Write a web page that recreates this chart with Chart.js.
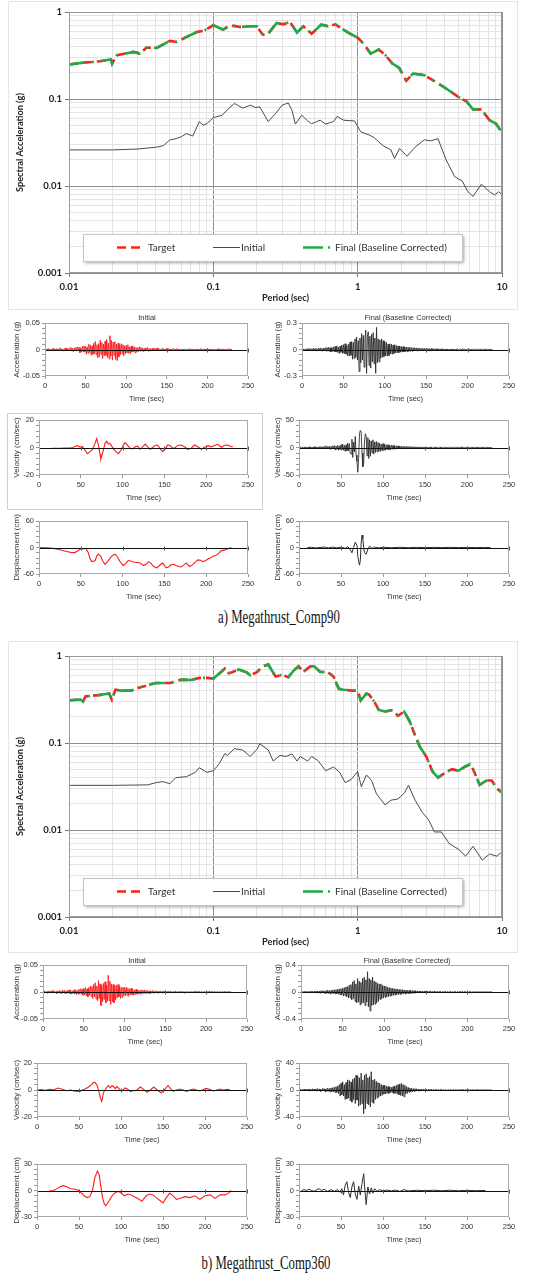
<!DOCTYPE html>
<html><head><meta charset="utf-8">
<script src="https://cdn.jsdelivr.net/npm/chart.js@4.4.1/dist/chart.umd.min.js"></script>
<style>
html,body{margin:0;padding:0;background:#fff}
body{position:relative;width:545px;height:1277px;overflow:hidden}
.box{position:absolute}
.frame{position:absolute;border:1px solid #e4e4e4;box-sizing:border-box}
.ttl{position:absolute;font-family:'Liberation Sans',Arial,sans-serif;font-size:7.5px;color:#333;transform:translateX(-50%);white-space:nowrap;line-height:9px}
.cap{position:absolute;font-family:'Liberation Serif','Times New Roman',serif;font-size:18px;color:#111;white-space:nowrap;transform:translate(-50%,-50%) scaleX(0.71)}
</style></head><body>
<div class="frame" style="left:8px;top:1px;width:510px;height:309px"></div>
<div class="frame" style="left:7px;top:413px;width:256px;height:97px;border-color:#cfcfcf"></div>
<div class="frame" style="left:8px;top:641px;width:510px;height:312px"></div>

<div class="box" id="specA" style="left:0;top:0;width:545px;height:305px"><canvas></canvas></div>
<div class="box" id="a1L" style="left:0;top:314px;width:262px;height:90px"><canvas></canvas></div>
<div class="box" id="a1R" style="left:262px;top:314px;width:283px;height:90px"><canvas></canvas></div>
<div class="box" id="a2L" style="left:0;top:411px;width:262px;height:92px"><canvas></canvas></div>
<div class="box" id="a2R" style="left:262px;top:411px;width:283px;height:92px"><canvas></canvas></div>
<div class="box" id="a3L" style="left:0;top:512px;width:262px;height:90px"><canvas></canvas></div>
<div class="box" id="a3R" style="left:262px;top:512px;width:283px;height:90px"><canvas></canvas></div>

<div class="box" id="specB" style="left:0;top:644px;width:545px;height:305px"><canvas></canvas></div>
<div class="box" id="b1L" style="left:0;top:956px;width:262px;height:91px"><canvas></canvas></div>
<div class="box" id="b1R" style="left:262px;top:956px;width:283px;height:91px"><canvas></canvas></div>
<div class="box" id="b2L" style="left:0;top:1054px;width:262px;height:91px"><canvas></canvas></div>
<div class="box" id="b2R" style="left:262px;top:1054px;width:283px;height:91px"><canvas></canvas></div>
<div class="box" id="b3L" style="left:0;top:1155px;width:262px;height:90px"><canvas></canvas></div>
<div class="box" id="b3R" style="left:262px;top:1155px;width:283px;height:90px"><canvas></canvas></div>

<div class="ttl" style="left:147px;top:313px">Initial</div>
<div class="ttl" style="left:408px;top:313px">Final (Baseline Corrected)</div>
<div class="ttl" style="left:137px;top:956px">Initial</div>
<div class="ttl" style="left:407px;top:956px">Final (Baseline Corrected)</div>
<div class="cap" style="left:279px;top:617px">a) Megathrust_Comp90</div>
<div class="cap" style="left:266px;top:1263px">b) Megathrust_Comp360</div>

<script>
// ---------------- DATA ----------------
const xMajors = [0.01, 0.1, 1, 10];
const xMajorLabels = ['0.01', '0.1', '1', '10'];
const yMajors = [0.001, 0.01, 0.1, 1];
const yMajorLabels = ['0.001', '0.01', '0.1', '1'];
const legendLabels = ['Target', 'Initial', 'Final (Baseline Corrected)'];

// Spectrum (a) [period, Sa]
const targetA = [[0.01,0.249],[0.0126,0.262],[0.0147,0.267],[0.0164,0.272],[0.0195,0.284],[0.0199,0.255],[0.0214,0.318],[0.0279,0.348],[0.031,0.333],[0.0345,0.39],[0.0405,0.387],[0.05,0.465],[0.0557,0.453],[0.0653,0.517],[0.0768,0.589],[0.0853,0.605],[0.1,0.703],[0.117,0.627],[0.131,0.703],[0.153,0.673],[0.18,0.685],[0.2,0.685],[0.22,0.549],[0.235,0.54],[0.275,0.748],[0.306,0.722],[0.34,0.768],[0.38,0.58],[0.42,0.685],[0.48,0.564],[0.56,0.716],[0.625,0.685],[0.7,0.722],[0.774,0.644],[0.883,0.564],[1.0,0.508],[1.1,0.43],[1.23,0.333],[1.4,0.37],[1.56,0.318],[1.74,0.255],[1.94,0.228],[2.17,0.162],[2.42,0.196],[2.9,0.188],[3.33,0.164],[4.1,0.132],[4.97,0.106],[5.7,0.093],[6.3,0.076],[7.2,0.076],[8.2,0.057],[9.1,0.052],[10,0.041]];
const finalA = [[0.01,0.249],[0.0126,0.262],[0.0147,0.267],[0.0164,0.272],[0.0195,0.284],[0.0199,0.255],[0.0214,0.318],[0.0279,0.348],[0.031,0.333],[0.0345,0.39],[0.0405,0.387],[0.05,0.465],[0.0557,0.453],[0.0653,0.517],[0.0768,0.589],[0.0853,0.605],[0.1,0.703],[0.117,0.627],[0.131,0.703],[0.153,0.673],[0.18,0.685],[0.2,0.685],[0.22,0.549],[0.235,0.54],[0.275,0.748],[0.306,0.722],[0.34,0.768],[0.38,0.58],[0.42,0.685],[0.48,0.564],[0.56,0.716],[0.625,0.685],[0.7,0.722],[0.774,0.644],[0.883,0.564],[1.0,0.508],[1.1,0.43],[1.23,0.333],[1.4,0.37],[1.56,0.318],[1.74,0.255],[1.94,0.228],[2.17,0.162],[2.42,0.196],[2.9,0.188],[3.33,0.164],[4.1,0.132],[4.97,0.106],[5.7,0.093],[6.3,0.076],[7.2,0.076],[8.2,0.057],[9.1,0.052],[10,0.041]];
const initialA = [[0.01,0.026],[0.02,0.026],[0.03,0.0266],[0.0405,0.028],[0.045,0.029],[0.05,0.0339],[0.055,0.035],[0.06,0.0368],[0.065,0.04],[0.072,0.0375],[0.08,0.055],[0.085,0.05],[0.09,0.052],[0.1,0.061],[0.115,0.065],[0.125,0.075],[0.14,0.089],[0.16,0.0785],[0.18,0.085],[0.195,0.08],[0.21,0.081],[0.24,0.055],[0.27,0.068],[0.3,0.085],[0.33,0.09],[0.35,0.075],[0.37,0.0515],[0.41,0.065],[0.45,0.056],[0.48,0.052],[0.52,0.055],[0.55,0.057],[0.6,0.0515],[0.68,0.055],[0.72,0.063],[0.8,0.057],[0.95,0.056],[1.05,0.042],[1.2,0.0386],[1.3,0.036],[1.35,0.034],[1.5,0.029],[1.7,0.026],[1.8,0.0207],[1.95,0.027],[2.2,0.022],[2.5,0.028],[2.9,0.034],[3.2,0.033],[3.6,0.035],[4.1,0.02],[4.7,0.0128],[5.3,0.0114],[5.8,0.0086],[6.3,0.0076],[7.2,0.0105],[8.2,0.0086],[8.9,0.0079],[9.5,0.0086],[10,0.008]];

// Spectrum (b)
const targetB = [[0.01,0.31],[0.012,0.316],[0.0125,0.30],[0.013,0.343],[0.016,0.355],[0.019,0.37],[0.0198,0.315],[0.021,0.41],[0.023,0.40],[0.027,0.40],[0.03,0.43],[0.04,0.49],[0.05,0.49],[0.06,0.535],[0.07,0.53],[0.08,0.56],[0.09,0.56],[0.1,0.55],[0.11,0.63],[0.12,0.715],[0.125,0.63],[0.135,0.65],[0.15,0.70],[0.17,0.65],[0.18,0.60],[0.2,0.65],[0.22,0.76],[0.24,0.80],[0.27,0.58],[0.3,0.61],[0.33,0.57],[0.36,0.68],[0.39,0.76],[0.42,0.655],[0.47,0.76],[0.5,0.76],[0.55,0.655],[0.62,0.655],[0.68,0.58],[0.74,0.42],[0.8,0.41],[0.9,0.40],[1.0,0.40],[1.05,0.31],[1.15,0.37],[1.2,0.36],[1.3,0.30],[1.4,0.24],[1.55,0.23],[1.75,0.24],[1.9,0.205],[2.1,0.23],[2.3,0.175],[2.5,0.122],[2.7,0.09],[3.0,0.069],[3.3,0.047],[3.6,0.04],[4.0,0.045],[4.5,0.05],[5.0,0.048],[5.5,0.053],[6.0,0.057],[6.3,0.05],[7.0,0.033],[7.8,0.037],[8.5,0.037],[9.2,0.030],[10,0.027]];
const finalB = [[0.01,0.31],[0.012,0.316],[0.0125,0.30],[0.013,0.343],[0.016,0.355],[0.019,0.37],[0.0198,0.315],[0.021,0.41],[0.023,0.40],[0.027,0.40],[0.03,0.43],[0.04,0.49],[0.05,0.49],[0.06,0.535],[0.07,0.53],[0.08,0.56],[0.09,0.56],[0.1,0.55],[0.11,0.63],[0.12,0.715],[0.125,0.63],[0.135,0.65],[0.15,0.70],[0.17,0.65],[0.18,0.60],[0.2,0.65],[0.22,0.76],[0.24,0.80],[0.27,0.58],[0.3,0.61],[0.33,0.57],[0.36,0.68],[0.39,0.76],[0.42,0.655],[0.47,0.76],[0.5,0.76],[0.55,0.655],[0.62,0.655],[0.68,0.58],[0.74,0.42],[0.8,0.41],[0.9,0.40],[1.0,0.40],[1.05,0.31],[1.15,0.37],[1.2,0.36],[1.3,0.30],[1.4,0.24],[1.55,0.23],[1.75,0.24],[1.9,0.205],[2.1,0.23],[2.3,0.175],[2.5,0.122],[2.7,0.09],[3.0,0.069],[3.3,0.047],[3.6,0.04],[4.0,0.045],[4.5,0.05],[5.0,0.048],[5.5,0.053],[6.0,0.057],[6.3,0.05],[7.0,0.033],[7.8,0.037],[8.5,0.037],[9.2,0.030],[10,0.027]];
const initialB = [[0.01,0.0326],[0.02,0.0326],[0.035,0.033],[0.04,0.035],[0.045,0.036],[0.05,0.034],[0.055,0.04],[0.065,0.041],[0.075,0.046],[0.08,0.052],[0.09,0.046],[0.1,0.048],[0.11,0.058],[0.12,0.0755],[0.125,0.072],[0.14,0.086],[0.16,0.083],[0.18,0.07],[0.2,0.084],[0.21,0.098],[0.24,0.083],[0.26,0.062],[0.29,0.072],[0.32,0.07],[0.35,0.075],[0.38,0.062],[0.4,0.07],[0.45,0.062],[0.48,0.07],[0.53,0.063],[0.6,0.048],[0.68,0.053],[0.75,0.046],[0.82,0.035],[0.9,0.038],[1.0,0.047],[1.06,0.0315],[1.15,0.043],[1.25,0.037],[1.35,0.026],[1.55,0.0194],[1.7,0.022],[1.9,0.0227],[2.1,0.0265],[2.25,0.0326],[2.5,0.022],[2.8,0.016],[3.1,0.0131],[3.4,0.0095],[3.8,0.0095],[4.3,0.007],[5.0,0.006],[5.6,0.005],[6.3,0.0065],[7.3,0.0045],[8.2,0.0053],[9.2,0.005],[10,0.0056]];

// Time histories, dense traces sampled every 1 s
const t1 = [0,1,2,3,4,5,6,7,8,9,10,11,12,13,14,15,16,17,18,19,20,21,22,23,24,25,26,27,28,29,30,31,32,33,34,35,36,37,38,39,40,41,42,43,44,45,46,47,48,49,50,51,52,53,54,55,56,57,58,59,60,61,62,63,64,65,66,67,68,69,70,71,72,73,74,75,76,77,78,79,80,81,82,83,84,85,86,87,88,89,90,91,92,93,94,95,96,97,98,99,100,101,102,103,104,105,106,107,108,109,110,111,112,113,114,115,116,117,118,119,120,121,122,123,124,125,126,127,128,129,130,131,132,133,134,135,136,137,138,139,140,141,142,143,144,145,146,147,148,149,150,151,152,153,154,155,156,157,158,159,160,161,162,163,164,165,166,167,168,169,170,171,172,173,174,175,176,177,178,179,180,181,182,183,184,185,186,187,188,189,190,191,192,193,194,195,196,197,198,199,200,201,202,203,204,205,206,207,208,209,210,211,212,213,214,215,216,217,218,219,220,221,222,223,224,225,226,227,228,229,230];

const accInitA = [0.001,-0.002,0.001,-0.001,0.002,-0.001,0.001,-0.002,0.001,-0.001,
 0.002,-0.001,0.001,-0.002,0.002,-0.001,0.001,-0.002,0.003,-0.001,
 0.002,-0.002,0.001,-0.003,0.002,-0.001,0.003,-0.002,0.001,-0.002,
 0.003,-0.002,0.004,-0.003,0.002,-0.004,0.003,-0.002,0.004,-0.003,
 0.005,-0.003,0.004,-0.006,0.003,-0.005,0.006,-0.004,0.007,-0.005,
 0.006,-0.009,0.005,-0.007,0.010,-0.006,0.008,-0.011,0.007,-0.009,
 0.012,-0.008,0.015,-0.010,0.009,-0.016,0.011,-0.014,0.018,-0.009,
 0.013,-0.017,0.010,-0.012,0.016,-0.011,0.019,-0.015,0.012,-0.018,
 0.026,-0.013,0.017,-0.020,0.014,-0.011,0.015,-0.019,0.010,-0.021,
 0.012,-0.014,0.009,-0.010,0.011,-0.008,0.009,-0.012,0.007,-0.008,
 0.008,-0.006,0.009,-0.007,0.005,-0.008,0.006,-0.005,0.007,-0.004,
 0.005,-0.006,0.004,-0.005,0.003,-0.004,0.005,-0.003,0.004,-0.003,
 0.003,-0.004,0.002,-0.003,0.003,-0.002,0.004,-0.003,0.002,-0.003,
 0.002,-0.003,0.002,-0.002,0.003,-0.002,0.002,-0.002,0.003,-0.001,
 0.002,-0.002,0.001,-0.002,0.002,-0.001,0.002,-0.002,0.001,-0.002,
 0.002,-0.001,0.002,-0.001,0.001,-0.002,0.001,-0.001,0.002,-0.001,
 0.001,-0.001,0.002,-0.001,0.001,-0.001,0.001,-0.002,0.001,-0.001,
 0.001,-0.001,0.001,-0.002,0.001,-0.001,0.001,-0.001,0.002,-0.001,
 0.001,-0.001,0.001,-0.001,0.001,-0.002,0.001,-0.001,0.001,-0.001,
 0.001,-0.001,0.002,-0.001,0.001,-0.001,0.001,-0.001,0.001,-0.001,
 0.002,-0.001,0.001,-0.001,0.001,-0.001,0.001,-0.002,0.001,-0.001,
 0.001,-0.001,0.001,-0.001,0.002,-0.001,0.001,-0.001,0.001,-0.001,
 0.001,-0.001,0.001,-0.001,0.001,-0.001,0.002,-0.001,0.001,-0.001,
 0];
const accFinA = [0.006,-0.008,0.005,-0.01,0.007,-0.006,0.009,-0.007,0.011,-0.008,
 0.01,-0.012,0.008,-0.011,0.013,-0.009,0.012,-0.014,0.01,-0.013,
 0.015,-0.012,0.018,-0.014,0.012,-0.019,0.016,-0.013,0.02,-0.017,
 0.022,-0.018,0.025,-0.021,0.019,-0.028,0.024,-0.02,0.03,-0.026,
 0.034,-0.028,0.04,-0.033,0.029,-0.045,0.038,-0.032,0.05,-0.042,
 0.055,-0.048,0.065,-0.052,0.045,-0.07,0.06,-0.075,0.085,-0.065,
 0.09,-0.11,0.08,-0.1,0.12,-0.09,0.14,-0.12,0.1,-0.25,
 0.13,-0.15,0.18,-0.12,0.16,-0.2,0.12,0.22,-0.27,0.15,
 0.2,-0.18,0.15,-0.21,0.17,-0.14,0.19,-0.16,0.13,-0.27,
 0.25,-0.15,0.12,-0.14,0.11,-0.1,0.12,-0.09,0.1,-0.08,
 0.09,-0.07,0.08,-0.075,0.06,-0.07,0.065,-0.05,0.06,-0.055,
 0.05,-0.045,0.055,-0.04,0.045,-0.038,0.04,-0.035,0.038,-0.03,
 0.035,-0.03,0.032,-0.028,0.03,-0.025,0.028,-0.024,0.026,-0.022,
 0.024,-0.02,0.022,-0.019,0.02,-0.018,0.019,-0.016,0.018,-0.015,
 0.016,-0.014,0.015,-0.013,0.014,-0.012,0.013,-0.012,0.012,-0.011,
 0.012,-0.01,0.011,-0.01,0.01,-0.009,0.01,-0.009,0.009,-0.008,
 0.009,-0.008,0.008,-0.007,0.008,-0.007,0.007,-0.007,0.007,-0.006,
 0.007,-0.006,0.006,-0.006,0.006,-0.005,0.006,-0.005,0.005,-0.005,
 0.006,-0.005,0.005,-0.005,0.005,-0.004,0.005,-0.004,0.005,-0.004,
 0.005,-0.004,0.004,-0.004,0.01,-0.008,0.004,-0.004,0.004,-0.004,
 0.004,-0.004,0.004,-0.003,0.004,-0.003,0.004,-0.003,0.003,-0.003,
 0.003,-0.003,0.003,-0.003,0.003,-0.003,0.003,-0.002,0.003,-0.002,
 0.002,-0.002,0.002,-0.002,0.002,-0.002,0.002,-0.001,0,0,
 0];
const velFinA = [0.5,-0.6,0.8,-0.4,0.7,-0.9,0.6,-0.5,1,-0.8,
 0.8,-1,1.2,-0.7,1,-1.3,0.9,-1.1,1.4,-1,
 1.2,-1.5,1,-1.3,1.6,-1.2,1.5,-1.8,1.3,-1.6,
 2,-1.5,3,-2.5,1.5,-2,2.5,-3,2,-2.5,
 3,-2,3.5,-4,2.5,-3,4,-5,3,-4,
 5,-4,6,-5,4,-7,5,-6,8,-6,
 7,-10,-12,15,-18,10,-8,20,-14,-25,
 -45,-20,25,31,28,-10,-35,-28,12,25,
 20,-15,18,-20,14,-16,12,-10,14,-12,
 10,-9,11,-8,9,-7,8,-7,6,-6,
 7,-5,6,-5,5,-4,5,-4,4,-4,
 4,-3,4,-3,3,-3,3,-2.5,3,-2.5,
 2.5,-2,2.5,-2,2,-2,2,-1.8,2,-1.5,
 1.8,-1.5,1.6,-1.4,1.5,-1.3,1.4,-1.2,1.3,-1.2,
 1.2,-1.1,1.1,-1,1,-1,1,-0.9,1,-0.9,
 0.9,-0.8,0.8,-0.8,0.8,-0.7,0.8,-0.7,0.7,-0.7,
 0.7,-0.6,0.7,-0.6,0.6,-0.6,0.6,-0.5,0.6,-0.5,
 0.6,-0.5,0.5,-0.5,0.5,-0.5,0.5,-0.4,0.5,-0.4,
 0.5,-0.4,0.4,-0.4,0.4,-0.4,0.4,-0.4,0.4,-0.3,
 0.4,-0.3,0.4,-0.3,1.2,-1,0.4,-0.3,0.3,-0.3,
 0.3,-0.3,0.3,-0.3,0.3,-0.3,0.3,-0.3,0.3,-0.2,
 0.3,-0.2,0.3,-0.2,0.2,-0.2,0.2,-0.2,0.2,-0.2,
 0.2,-0.2,0.2,-0.1,0.1,-0.1,0,0,0,0,
 0];
const accInitB = [0.002,-0.001,0.002,-0.002,0.001,-0.002,0.002,-0.001,0.002,-0.002,
 0.002,-0.002,0.003,-0.001,0.002,-0.002,0.001,-0.003,0.002,-0.002,
 0.003,-0.002,0.002,-0.003,0.003,-0.002,0.003,-0.003,0.002,-0.003,
 0.003,-0.002,0.004,-0.003,0.003,-0.004,0.002,-0.003,0.004,-0.003,
 0.004,-0.005,0.003,-0.004,0.005,-0.004,0.006,-0.004,0.005,-0.006,
 0.007,-0.005,0.008,-0.007,0.006,-0.009,0.008,-0.006,0.011,-0.008,
 0.01,-0.012,0.014,-0.009,0.017,-0.013,0.011,-0.016,0.021,-0.012,
 0.015,-0.025,0.012,-0.018,0.016,-0.014,0.019,-0.02,0.013,-0.017,
 0.031,-0.016,0.02,-0.023,0.015,-0.018,0.014,-0.02,0.012,-0.015,
 0.013,-0.011,0.014,-0.009,0.011,-0.012,0.008,-0.01,0.009,-0.007,
 0.008,-0.007,0.009,-0.006,0.007,-0.008,0.006,-0.005,0.007,-0.005,
 0.005,-0.006,0.004,-0.005,0.005,-0.004,0.004,-0.004,0.003,-0.004,
 0.004,-0.003,0.003,-0.003,0.004,-0.003,0.003,-0.002,0.003,-0.003,
 0.002,-0.003,0.002,-0.002,0.003,-0.002,0.002,-0.002,0.002,-0.002,
 0.002,-0.002,0.002,-0.001,0.002,-0.002,0.001,-0.002,0.002,-0.001,
 0.002,-0.001,0.001,-0.002,0.001,-0.001,0.002,-0.001,0.001,-0.001,
 0.001,-0.001,0.002,-0.001,0.001,-0.001,0.001,-0.001,0.001,-0.001,
 0.001,-0.001,0.001,-0.002,0.001,-0.001,0.001,-0.001,0.001,-0.001,
 0.001,-0.001,0.001,-0.001,0.001,-0.001,0.001,-0.001,0.002,-0.001,
 0.001,-0.001,0.001,-0.001,0.001,-0.001,0.001,-0.001,0.001,-0.001,
 0.001,-0.001,0.001,-0.001,0.002,-0.001,0.001,-0.001,0.001,-0.001,
 0.001,-0.001,0.001,-0.001,0.001,-0.001,0.001,-0.001,0.001,-0.001,
 0.001,-0.001,0.001,-0.001,0.001,-0.001,0.001,-0.001,0.001,-0.001,
 0];
const accFinB = [0.008,-0.01,0.007,-0.009,0.011,-0.008,0.01,-0.012,0.009,-0.011,
 0.012,-0.01,0.014,-0.012,0.011,-0.015,0.013,-0.011,0.016,-0.013,
 0.015,-0.018,0.014,-0.016,0.019,-0.015,0.02,-0.017,0.016,-0.021,
 0.022,-0.019,0.025,-0.022,0.02,-0.027,0.024,-0.021,0.03,-0.025,
 0.032,-0.028,0.036,-0.03,0.04,-0.034,0.045,-0.038,0.05,-0.044,
 0.055,-0.06,0.065,-0.055,0.075,-0.07,0.08,-0.09,0.1,-0.085,
 0.11,-0.12,0.15,-0.1,0.17,-0.14,0.12,-0.16,0.2,-0.15,
 0.16,-0.19,0.14,-0.17,0.2,-0.16,0.22,-0.2,0.18,-0.15,
 0.3,-0.22,0.2,-0.28,0.18,-0.2,0.22,-0.19,0.16,-0.18,
 0.15,-0.16,0.13,-0.14,0.12,-0.11,0.12,-0.1,0.1,-0.09,
 0.09,-0.08,0.085,-0.075,0.07,-0.07,0.065,-0.06,0.06,-0.055,
 0.055,-0.05,0.05,-0.045,0.045,-0.04,0.042,-0.038,0.04,-0.035,
 0.036,-0.032,0.034,-0.03,0.03,-0.028,0.028,-0.026,0.026,-0.024,
 0.024,-0.022,0.022,-0.02,0.02,-0.019,0.019,-0.017,0.018,-0.016,
 0.016,-0.015,0.015,-0.014,0.014,-0.013,0.013,-0.012,0.012,-0.011,
 0.012,-0.011,0.011,-0.01,0.01,-0.01,0.01,-0.009,0.009,-0.009,
 0.009,-0.008,0.008,-0.008,0.008,-0.007,0.008,-0.007,0.007,-0.007,
 0.007,-0.006,0.007,-0.006,0.006,-0.006,0.006,-0.006,0.006,-0.005,
 0.006,-0.005,0.005,-0.005,0.005,-0.005,0.005,-0.005,0.005,-0.004,
 0.005,-0.004,0.004,-0.004,0.012,-0.01,0.004,-0.004,0.004,-0.004,
 0.004,-0.004,0.004,-0.003,0.004,-0.003,0.004,-0.003,0.003,-0.003,
 0.003,-0.003,0.003,-0.003,0.003,-0.003,0.003,-0.002,0.003,-0.002,
 0.002,-0.002,0.002,-0.002,0.002,-0.002,0.002,-0.001,0.001,0,
 0];
const velFinB = [0.5,-0.8,1,-0.6,0.8,-1,1.2,-0.7,1,-1.2,
 1.5,-1,1.3,-1.6,1,-1.4,1.8,-1.2,1.5,-1.3,
 1.6,-1.8,2,-1.4,1.7,-2,1.5,-1.8,2.2,-1.5,
 2,-2.5,1.8,-2.2,2.6,-2,2.4,-2.8,3,-2.5,
 3.5,-3,4,-3.5,5,-4,6,-5,8,-9,
 10,-7,12,-9,8,-14,11,-13,15,-12,
 14,-16,12,-18,16,-14,18,-20,22,-15,
 20,-24,18,-22,25,-20,15,-35,22,-28,
 24,-20,18,-22,20,-25,27,-18,15,-20,
 16,-14,13,-12,11,-10,10,-9,8,-8,
 7,-6,7,-6,6,-5,5,-5,5,-4,
 4,-4,5,-5,6,-5,7,-6,8,-7,
 9,-8,10,-9,8,-10,7,-6,5,-5,
 4,-3.5,3,-3,2.5,-2.5,2,-2,2,-1.8,
 1.8,-1.6,1.5,-1.5,1.4,-1.3,1.3,-1.2,1.2,-1.1,
 1.1,-1,1,-1,1,-0.9,0.9,-0.9,0.8,-0.8,
 0.8,-0.8,0.7,-0.7,0.7,-0.7,0.6,-0.6,0.6,-0.6,
 0.6,-0.6,0.5,-0.5,0.5,-0.5,0.5,-0.5,0.5,-0.4,
 0.5,-0.4,0.4,-0.4,0.4,-0.4,0.4,-0.4,0.4,-0.4,
 0.4,-0.3,0.4,-0.3,1,-0.8,0.4,-0.3,0.3,-0.3,
 0.3,-0.3,0.3,-0.3,0.3,-0.3,0.3,-0.3,0.3,-0.2,
 0.3,-0.2,0.3,-0.2,0.2,-0.2,0.2,-0.2,0.2,-0.2,
 0.2,-0.2,0.2,-0.1,0.1,-0.1,0,0,0,0,
 0];

// Smoother traces [time, value]
const velInitA = [[15,-0.5],[20,-0.5],[25,-0.5],[30,-0.4],[35,-0.4],[40,-0.3],[43,0.8],[46,1.3],[49,0.2],[52,0.6],[55,-2],[58,-4.5],[61,-3],[64,-1.5],[67,3],[69,6.5],[71,2],[73,-5],[74,-8.5],[75,-6],[77,-2],[79,3],[81,4.5],[83,2.5],[85,3],[87,1],[89,-1],[92,-3],[95,-4.5],[98,-2],[101,2],[103,3.5],[106,1.5],[109,-0.5],[112,-1],[115,0.5],[118,1],[121,-1.3],[124,0.5],[127,2.5],[130,0.5],[133,-1.3],[136,0],[139,1.5],[142,1.8],[145,-1],[148,-3],[151,-1],[154,1.8],[157,1.2],[160,-0.5],[163,0],[166,1.5],[170,1.8],[174,0.5],[178,-1.3],[182,-0.5],[186,1.8],[190,0.5],[194,-1.3],[198,0.2],[202,1.3],[206,0.5],[210,1.5],[214,2.3],[218,0.2],[222,1.6],[226,1.8],[230,0.6],[232,0.5]];
const dispInitA = [[0,0],[10,-0.5],[17,-2],[25,-5],[33,-9],[38,-11],[43,-11.5],[46,-8],[49,-4],[53,-3],[56,-2],[59,-12],[61,-25],[63,-32],[67,-30],[69,-20],[71,-15],[74,-20],[76,-30],[79,-38],[82,-32],[85,-24],[88,-18],[91,-15],[94,-22],[97,-32],[101,-41],[104,-36],[107,-29],[110,-31],[113,-33],[117,-34],[121,-35],[125,-41],[128,-38],[131,-32],[134,-36],[137,-43],[141,-46],[145,-39],[148,-35],[152,-46],[155,-44],[158,-39],[161,-38],[164,-41],[167,-43],[170,-44],[173,-40],[176,-35],[180,-43],[183,-40],[186,-35],[190,-28],[193,-29],[196,-32],[199,-30],[202,-26],[205,-24],[208,-20],[211,-18],[214,-15],[218,-7],[222,-6],[226,-3],[230,0]];
const dispFinA = [[10,0],[15,0.5],[20,-1],[25,0],[30,1],[35,-1],[40,1],[45,-1],[50,1],[55,-2],[58,2],[61,-5],[63,-12],[65,0],[67,12],[69,5],[70,-20],[72,-40],[73,-30],[74,10],[75,28],[76,20],[77,0],[78,-12],[80,-15],[82,-3],[84,3],[86,0],[88,-2],[90,1],[95,-1],[100,0.5],[110,-0.5],[120,0.5],[130,-0.5],[140,0.3],[150,-0.3],[160,0.3],[170,-0.3],[180,0.2],[190,-0.2],[200,0.2],[210,-0.2],[220,0.1],[228,0]];
const velInitB = [[0,0],[5,0.3],[10,-0.2],[15,0.5],[20,0.2],[25,1.5],[30,0.5],[35,-0.5],[40,0],[45,-0.8],[51,-1],[54,0],[57,0.7],[61,2],[65,4],[67,5.5],[69,5.7],[71,4],[72,2.7],[74,-2],[75,-4.7],[77,-8.4],[78,-6],[79,-2],[81,0],[83,2],[85,3.2],[87,1.5],[89,3],[91,2.7],[93,1],[95,2.5],[97,1.5],[99,0],[101,-1],[103,0.5],[105,1.5],[108,0.5],[111,-1],[115,-0.5],[119,0],[123,2.2],[127,0.5],[131,-1.7],[135,0],[139,2.2],[143,0],[148,-2.2],[152,0.5],[156,3.2],[159,1],[162,-1],[166,0],[170,0.7],[174,0],[178,-1],[182,0],[186,0.7],[190,0],[194,-0.7],[198,0.3],[202,1.2],[206,0.3],[210,-0.7],[214,0],[218,0.7],[222,0],[226,0.5],[230,0.2]];
const dispInitB = [[15,0],[18,-0.5],[22,1],[27,4],[31,5.5],[36,4],[40,2],[45,1.5],[50,0],[53,-3],[57,-6.5],[60,-8],[63,-7],[66,0],[69,15],[72,22],[74,18],[76,5],[78,-8],[80,-15],[82,-17],[85,-13],[88,-8],[91,-4],[94,-2],[97,-1],[100,-3],[104,-6],[108,-4],[112,-5],[116,-7],[120,-9],[125,-12],[130,-6],[134,-4],[138,-5],[142,-8],[146,-11],[150,-14],[154,-8],[158,-3],[162,-6],[166,-10],[170,-9],[176,-7],[182,-8],[188,-6],[194,-10],[200,-6],[206,-5],[212,-9],[218,-5],[224,-5],[228,-3],[231,0]];
const dispFinB = [[3,0],[6,1],[9,0],[12,1.5],[15,0],[18,-1],[21,1],[24,2],[27,0],[30,1.5],[34,-1],[38,1],[42,-1],[46,1],[49,-2],[51,2],[53,-5],[55,6],[57,10],[59,-2],[61,-8],[63,4],[65,10],[67,-4],[69,-10],[71,5],[73,-5],[75,8],[77,19],[78,5],[80,-16],[82,4],[84,-4],[86,3],[88,-3],[90,2],[93,-1],[96,1],[100,-0.5],[105,0.5],[110,-0.5],[115,0.5],[120,-1],[125,1],[130,-0.5],[140,0.3],[150,-0.3],[160,0.3],[170,-0.3],[180,0.3],[190,-0.3],[200,0.2],[210,-0.2],[222,0]];

// ---------------- HELPERS ----------------
const pts = p => p.map(d => ({x: d[0], y: d[1]}));
const zipT = (t, v) => v.map((y, i) => ({x: t[i], y}));
const isMajor = (v, majors) => majors.some(m => Math.abs(v / m - 1) < 1e-6);
const logTicks = majors => { const out = []; for (let i = 0; i < majors.length - 1; i++) for (let k = 1; k <= 9; k++) out.push(majors[i] * k); out.push(majors[majors.length - 1]); return out; };

const framePlugin = {id: 'frame', afterDraw(c, a, o) {
  const ar = c.chartArea, x = c.ctx; x.save(); x.strokeStyle = o.color || '#999'; x.lineWidth = 1;
  x.strokeRect(Math.round(ar.left) + 0.5, Math.round(ar.top) + 0.5, Math.round(ar.right - ar.left) - 1, Math.round(ar.bottom - ar.top) - 1); x.restore(); }};

const zeroPlugin = {id: 'zero', afterDatasetsDraw(c) {
  const ys = c.scales.y, xs = c.scales.x, ctx = c.ctx, ar = c.chartArea;
  const y = Math.round(ys.getPixelForValue(0)) + 0.5;
  ctx.save(); ctx.strokeStyle = '#111'; ctx.lineWidth = 1; ctx.beginPath();
  ctx.moveTo(ar.left, y); ctx.lineTo(ar.right, y); ctx.stroke();
  ctx.strokeStyle = '#555'; ctx.beginPath();
  xs.ticks.forEach(t => { const px = Math.round(xs.getPixelForValue(t.value)) + 0.5; ctx.moveTo(px, y - 2); ctx.lineTo(px, y + 2); });
  ctx.stroke(); ctx.restore(); }};

const specLegend = {id: 'specLegend', afterDraw(c) {
  const a = c.chartArea, ctx = c.ctx, ds = c.data.datasets;
  const x0 = a.left + 14, x1 = a.left + 393, y0 = a.bottom - 39, y1 = a.bottom - 12, ym = (y0 + y1) / 2;
  ctx.save();
  ctx.shadowColor = 'rgba(0,0,0,0.35)'; ctx.shadowBlur = 3; ctx.shadowOffsetX = 2; ctx.shadowOffsetY = 2;
  ctx.fillStyle = '#fff'; ctx.fillRect(x0, y0, x1 - x0, y1 - y0);
  ctx.shadowColor = 'rgba(0,0,0,0)';
  ctx.strokeStyle = '#c4c4c4'; ctx.lineWidth = 1; ctx.strokeRect(x0 + 0.5, y0 + 0.5, x1 - x0, y1 - y0);
  const items = [{i: 0, lx: 48, len: 23, dash: [9, 5], tx: 79}, {i: 1, lx: 144, len: 27, dash: [], tx: 172}, {i: 2, lx: 234, len: 27, dash: [20, 5, 2, 40], tx: 266}];
  ctx.font = '10px Lato'; ctx.textBaseline = 'middle';
  items.forEach(it => { const d = ds[it.i]; ctx.beginPath(); ctx.setLineDash(it.dash); ctx.strokeStyle = d.borderColor; ctx.lineWidth = d.borderWidth;
    ctx.moveTo(a.left + it.lx, ym); ctx.lineTo(a.left + it.lx + it.len, ym); ctx.stroke(); ctx.setLineDash([]);
    ctx.fillStyle = '#333'; ctx.fillText(d.label, a.left + it.tx, ym); });
  ctx.restore(); }};

Chart.defaults.font.family = 'Lato';

function specChart(id, target, initial, fin) {
  const cv = document.querySelector('#' + id + ' canvas');
  const xt = logTicks(xMajors), yt = logTicks(yMajors);
  const tickFont = {family: 'Lato', size: 9.5, weight: 'bold'};
  const titleFont = {family: 'Lato', size: 9.2, weight: 'bold'};
  return new Chart(cv, {
    type: 'line',
    data: {datasets: [
      {label: legendLabels[0], data: pts(target), borderColor: '#ff1f1f', borderWidth: 2.6, borderDash: [9, 5], pointRadius: 0, tension: 0, order: 1},
      {label: legendLabels[1], data: pts(initial), borderColor: '#4a4a4a', borderWidth: 1, pointRadius: 0, tension: 0, order: 2},
      {label: legendLabels[2], data: pts(fin), borderColor: '#1faa4a', borderWidth: 2.6, borderDash: [16, 7, 2, 7], pointRadius: 0, tension: 0, order: 0}
    ]},
    options: {
      responsive: true, maintainAspectRatio: false, animation: false, events: [],
      layout: {padding: {left: 0, right: 43, top: 12, bottom: 0}},
      plugins: {legend: {display: false}, tooltip: {enabled: false}, frame: {color: '#9a9a9a'}},
      scales: {
        x: {type: 'logarithmic', min: 0.01, max: 10,
          afterBuildTicks: s => { s.ticks = xt.map(v => ({value: v})); },
          afterFit: s => { s.height = 32; },
          ticks: {autoSkip: false, maxRotation: 0, minRotation: 0, padding: 4, color: '#222', font: tickFont,
            callback: v => { const i = xMajors.findIndex(m => Math.abs(v / m - 1) < 1e-6); return i >= 0 ? xMajorLabels[i] : ''; }},
          grid: {color: c => c.tick && isMajor(c.tick.value, xMajors) ? '#8f8f8f' : '#e4e4e4',
                 tickColor: c => c.tick && isMajor(c.tick.value, xMajors) ? '#777' : 'rgba(0,0,0,0)', tickLength: 4},
          border: {display: false},
          title: {display: true, text: 'Period (sec)', color: '#222', font: titleFont, padding: {top: 0, bottom: 1}}},
        y: {type: 'logarithmic', min: 0.001, max: 1,
          afterBuildTicks: s => { s.ticks = yt.map(v => ({value: v})); },
          afterFit: s => { s.width = 69; },
          ticks: {autoSkip: false, padding: 3, color: '#222', font: tickFont,
            callback: v => { const i = yMajors.findIndex(m => Math.abs(v / m - 1) < 1e-6); return i >= 0 ? yMajorLabels[i] : ''; }},
          grid: {color: c => c.tick && isMajor(c.tick.value, yMajors) ? '#8f8f8f' : '#e4e4e4',
                 tickColor: c => c.tick && isMajor(c.tick.value, yMajors) ? '#777' : 'rgba(0,0,0,0)', tickLength: 4},
          border: {display: false},
          title: {display: true, text: 'Spectral Acceleration (g)', color: '#222', font: titleFont, padding: {top: 14.5, bottom: 0}}}
      }
    },
    plugins: [framePlugin, specLegend]
  });
}

function smallChart(id, o) {
  const cv = document.querySelector('#' + id + ' canvas');
  const yt = []; for (let k = -5; k <= 5; k++) yt.push(o.ymax * k / 5);
  const f = {family: 'Liberation Sans', size: 7.5};
  return new Chart(cv, {
    type: 'line',
    data: {datasets: o.series.map(s => ({data: s.data, borderColor: s.color, borderWidth: s.w || 1, pointRadius: 0, tension: 0, fill: false}))},
    options: {
      responsive: true, maintainAspectRatio: false, animation: false, events: [],
      layout: {padding: {left: 0, right: o.padR, top: 9, bottom: 0}},
      plugins: {legend: {display: false}, tooltip: {enabled: false}, frame: {color: '#a8a8a8'}},
      scales: {
        x: {type: 'linear', min: 0, max: 250, afterFit: s => { s.height = 28; },
          ticks: {stepSize: 50, autoSkip: false, maxRotation: 0, padding: 2, color: '#333', font: f},
          grid: {drawOnChartArea: false, color: '#999', tickColor: '#999', tickLength: 3},
          border: {display: false},
          title: {display: true, text: 'Time (sec)', color: '#333', font: f, padding: {top: 0, bottom: 1}}},
        y: {type: 'linear', min: -o.ymax, max: o.ymax,
          afterBuildTicks: s => { s.ticks = yt.map(v => ({value: v})); },
          afterFit: s => { s.width = o.yW; },
          ticks: {autoSkip: false, padding: 2, color: '#333', font: f,
            callback: (v, i) => i === 0 ? o.lo : (i === 5 ? '0' : (i === 10 ? o.hi : ''))},
          grid: {drawOnChartArea: false, color: '#999', tickColor: '#999', tickLength: 3},
          border: {display: false},
          title: {display: true, text: o.ytitle, color: '#333', font: {family: 'Liberation Sans', size: 8}, padding: {top: o.tpad, bottom: 0}}}
      }
    },
    plugins: [framePlugin, zeroPlugin]
  });
}

// ---------------- BUILD ----------------
specChart('specA', targetA, initialA, finalA);
specChart('specB', targetB, initialB, finalB);

const RED = '#ff1a1a', BLK = '#2e2e2e';
const L = {padR: 14, tpad: 12}, R = {padR: 36, tpad: 11};
smallChart('a1L', Object.assign({}, L, {yW: 45, ymax: 0.05, hi: '0.05', lo: '-0.05', ytitle: 'Acceleration (g)', series: [{data: zipT(t1, accInitA), color: RED, w: 0.9}]}));
smallChart('a1R', Object.assign({}, R, {yW: 40, ymax: 0.3, hi: '0.3', lo: '-0.3', ytitle: 'Acceleration (g)', series: [{data: zipT(t1, accFinA), color: BLK, w: 0.9}]}));
smallChart('a2L', Object.assign({}, L, {yW: 39, ymax: 20, hi: '20', lo: '-20', ytitle: 'Velocity (cm/sec)', series: [{data: pts(velInitA), color: RED, w: 1.1}]}));
smallChart('a2R', Object.assign({}, R, {yW: 37, ymax: 50, hi: '50', lo: '-50', ytitle: 'Velocity (cm/sec)', series: [{data: zipT(t1, velFinA), color: BLK, w: 0.9}]}));
smallChart('a3L', Object.assign({}, L, {yW: 39, ymax: 60, hi: '60', lo: '-60', ytitle: 'Displacement (cm)', series: [{data: pts(dispInitA), color: RED, w: 1.1}]}));
smallChart('a3R', Object.assign({}, R, {yW: 37, ymax: 60, hi: '60', lo: '-60', ytitle: 'Displacement (cm)', series: [{data: pts(dispFinA), color: BLK, w: 1}]}));

const L2 = {padR: 15, tpad: 12};
smallChart('b1L', Object.assign({}, L2, {yW: 43, ymax: 0.05, hi: '0.05', lo: '-0.05', ytitle: 'Acceleration (g)', series: [{data: zipT(t1, accInitB), color: RED, w: 0.9}]}));
smallChart('b1R', Object.assign({}, R, {yW: 39, ymax: 0.4, hi: '0.4', lo: '-0.4', ytitle: 'Acceleration (g)', series: [{data: zipT(t1, accFinB), color: BLK, w: 0.9}]}));
smallChart('b2L', Object.assign({}, L2, {yW: 37, ymax: 20, hi: '20', lo: '-20', ytitle: 'Velocity (cm/sec)', series: [{data: pts(velInitB), color: RED, w: 1.1}]}));
smallChart('b2R', Object.assign({}, R, {yW: 37, ymax: 40, hi: '40', lo: '-40', ytitle: 'Velocity (cm/sec)', series: [{data: zipT(t1, velFinB), color: BLK, w: 0.9}]}));
smallChart('b3L', Object.assign({}, L2, {yW: 37, ymax: 30, hi: '30', lo: '-30', ytitle: 'Displacement (cm)', series: [{data: pts(dispInitB), color: RED, w: 1.1}]}));
smallChart('b3R', Object.assign({}, R, {yW: 37, ymax: 30, hi: '30', lo: '-30', ytitle: 'Displacement (cm)', series: [{data: pts(dispFinB), color: BLK, w: 1}]}));
</script>
</body></html>
